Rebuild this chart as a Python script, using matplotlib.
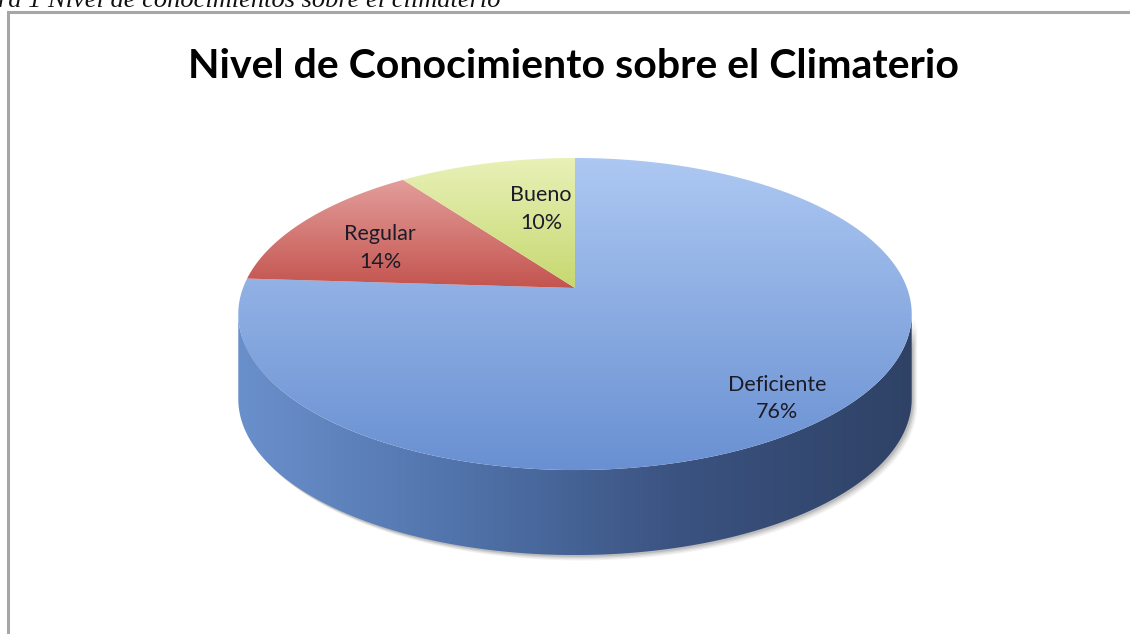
import numpy as np
import matplotlib
matplotlib.use("Agg")
import matplotlib.pyplot as plt
from matplotlib.patches import Polygon
from matplotlib.colors import LinearSegmentedColormap

# ---------------- data ----------------
categories = ["Deficiente", "Regular", "Bueno"]
values = [76, 14, 10]
pct_labels = ["76%", "14%", "10%"]
title = "Nivel de Conocimiento sobre el Climaterio"
caption = "Figura 1 Nivel de conocimientos sobre el climaterio"

# ---------------- layout / style ----------------
W, H = 1130, 634
CX, CY = 575, 288          # pie centre on screen (px)
A, B = 332, 151.7          # semi axes before perspective
K = 0.1667                 # perspective factor
DEPTH = 85                 # thickness of the pie (px)

top_colors = {
    "Deficiente": ("#adc8f2", "#6990d2"),
    "Regular": ("#e39e9b", "#c4544f"),
    "Bueno": ("#e9f1b8", "#c6d870"),
}
# (x, baseline of name, baseline of percentage) in px
label_pos = {"Deficiente": (777, 391, 418), "Regular": (380, 240, 268),
             "Bueno": (541, 201, 229)}

fig = plt.figure(figsize=(W / 100, H / 100), dpi=100)
ax = fig.add_axes([0, 0, 1, 1])
ax.set_xlim(0, W)
ax.set_ylim(H, 0)
ax.axis("off")


def proj(theta_deg, r=1.0, dz=0.0):
    t = np.radians(theta_deg)
    x = r * np.cos(t)
    y = r * np.sin(t)
    w = 1 + K * y
    return CX + A * x / w, CY - B * y / w + dz


def grad_fill(poly_xy, c1, c2, vertical=True, stops=None, zorder=2):
    poly = Polygon(poly_xy, closed=True, facecolor="none", edgecolor="none")
    ax.add_patch(poly)
    xs, ys = poly_xy[:, 0], poly_xy[:, 1]
    x0, x1, y0, y1 = xs.min(), xs.max(), ys.min(), ys.max()
    if stops is None:
        cmap = LinearSegmentedColormap.from_list("g", [c1, c2])
    else:
        cmap = LinearSegmentedColormap.from_list("g", stops)
    g = np.linspace(0, 1, 256)
    if vertical:
        img = g[:, None] * np.ones((1, 2))
    else:
        img = np.ones((2, 1)) * g[None, :]
    im = ax.imshow(img, cmap=cmap, extent=(x0, x1, y1, y0), origin="upper",
                   aspect="auto", interpolation="bicubic", zorder=zorder)
    im.set_clip_path(poly)


# frame
ax.plot([8, 8, W + 5], [H + 5, 12, 12], color="#a6a6a6", lw=2.2,
        solid_joinstyle="miter", zorder=1)

# caption (cut off at the top and left of the image)
ax.text(-52, 7, caption, fontsize=19, family="Liberation Serif", style="italic",
        ha="left", va="baseline", color="#111111", zorder=1)

# title
ax.text(573, 78, title, fontsize=29.5, fontweight="bold", family="Lato",
        ha="center", va="baseline", color="#000000", zorder=5)

# ---- side (front) ----
t1 = 180 + np.degrees(np.arcsin(K))
t2 = 360 - np.degrees(np.arcsin(K))
ts = np.linspace(t1, t2, 300)
tx, ty = proj(ts)
side = np.vstack([np.column_stack([tx, ty]),
                  np.column_stack([tx[::-1], ty[::-1] + DEPTH])])

# soft shadow
for off, al in [(9, 0.05), (7, 0.06), (5, 0.08), (3, 0.1)]:
    sh = side.copy()
    sh[:, 0] += off * 0.6
    sh[:, 1] += off * 0.6
    ax.add_patch(Polygon(sh, closed=True, facecolor="#000000", alpha=al,
                         edgecolor="none", zorder=1.5))

grad_fill(side, None, None, vertical=False,
          stops=[(0, "#6a90cc"), (0.35, "#4f71a8"), (0.65, "#3b5381"), (1, "#2f4266")],
          zorder=2)

# ---- top faces ----
total = sum(values)
start = 90.0
for cat, v in zip(categories, values):
    sweep = 360.0 * v / total
    ang = np.linspace(start, start - sweep, max(int(sweep * 3), 20))
    px, py = proj(ang)
    pts = np.vstack([[CX, CY], np.column_stack([px, py])])
    c1, c2 = top_colors[cat]
    grad_fill(pts, c1, c2, vertical=True, zorder=3)
    start -= sweep

# labels
for cat, p in zip(categories, pct_labels):
    x, y1, y2 = label_pos[cat]
    ax.text(x, y1, cat, fontsize=15.5, family="Lato", ha="center",
            va="baseline", color="#1c1c28", zorder=6)
    ax.text(x, y2, p, fontsize=15.5, family="Lato", ha="center",
            va="baseline", color="#1c1c28", zorder=6)

fig.savefig("out.png", dpi=100)
